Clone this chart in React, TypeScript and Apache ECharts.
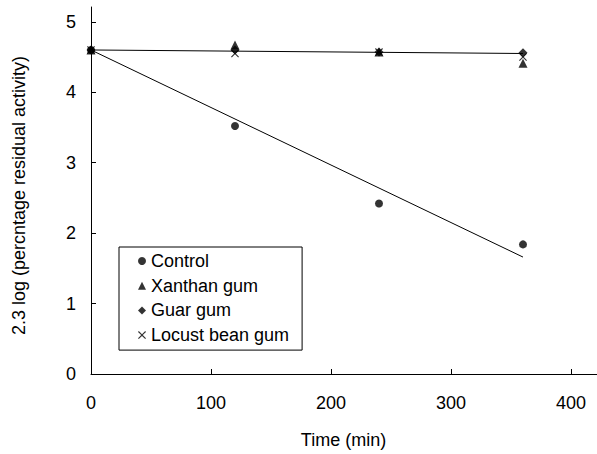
import React, { useEffect, useRef } from "react";
import * as echarts from "echarts";

const times = [0, 120, 240, 360];
const control = [4.6, 3.52, 2.42, 1.84];
const xanthan = [4.6, 4.67, 4.57, 4.41];
const guar = [4.6, 4.6, 4.57, 4.56];
const locust = [4.6, 4.55, 4.57, 4.5];

const trendX = [0, 360];
const controlTrend = [4.6, 1.66];
const gumTrend = [4.6, 4.55];

const xTicks = [0, 100, 200, 300, 400];
const yTicks = [0, 1, 2, 3, 4, 5];

const FONT = "Liberation Sans, Arial, sans-serif";
const FS = 18;
const CROSS = "path://M0,1L1,0L5,4L9,0L10,1L6,5L10,9L9,10L5,6L1,10L0,9L4,5Z";

const pairs = (xs: number[], ys: number[]) => xs.map((x, i) => [x, ys[i]]);

export default function App() {
  const ref = useRef<HTMLDivElement>(null);
  useEffect(() => {
    if (!ref.current) return;
    const chart = echarts.init(ref.current, null, { renderer: "svg" });
    const axisCommon = {
      axisLine: { show: true, lineStyle: { color: "#000", width: 1 } },
      splitLine: { show: false },
    };
    chart.setOption({
      animation: false,
      backgroundColor: "#fff",
      textStyle: { fontFamily: FONT },
      grid: { left: 91, right: 0, top: 7, bottom: 80 },
      xAxis: {
        type: "value",
        min: 0,
        max: 421.67,
        ...axisCommon,
        name: "Time (min)",
        nameLocation: "middle",
        nameGap: 57,
        nameTextStyle: { fontSize: FS, color: "#000", fontFamily: FONT, padding: [0, 0, 0, -1] },
        axisTick: { show: true, inside: true, length: 5, customValues: xTicks, lineStyle: { color: "#000" } },
        axisLabel: { customValues: xTicks, fontSize: FS, color: "#000", fontFamily: FONT, margin: 20 },
      },
      yAxis: {
        type: "value",
        min: 0,
        max: 5.21,
        ...axisCommon,
        name: "2.3 log (percntage residual activity)",
        nameLocation: "middle",
        nameGap: 63,
        nameTextStyle: { fontSize: FS, color: "#000", fontFamily: FONT, padding: [0, 10, 0, 0] },
        axisTick: { show: true, inside: true, length: 5, customValues: yTicks, lineStyle: { color: "#000" } },
        axisLabel: { customValues: yTicks, fontSize: FS, color: "#000", fontFamily: FONT, margin: 15 },
      },
      legend: {
        orient: "vertical",
        left: 119,
        top: 247,
        data: ["Control", "Xanthan gum", "Guar gum", "Locust bean gum"],
        borderColor: "#000",
        borderWidth: 1,
        borderRadius: 0,
        padding: [4, 13, 5, 19],
        itemGap: 4.7,
        itemWidth: 8,
        itemHeight: 8,
        textStyle: { fontSize: FS, color: "#000", fontFamily: FONT, lineHeight: 20 },
      },
      series: [
        {
          type: "line",
          data: pairs(trendX, controlTrend),
          showSymbol: false,
          lineStyle: { color: "#000", width: 1 },
          silent: true,
          z: 1,
        },
        {
          type: "line",
          data: pairs(trendX, gumTrend),
          showSymbol: false,
          lineStyle: { color: "#000", width: 1 },
          silent: true,
          z: 1,
        },
        {
          name: "Control",
          type: "scatter",
          data: pairs(times, control),
          symbol: "circle",
          symbolSize: 8,
          itemStyle: { color: "#000" },
          z: 3,
        },
        {
          name: "Xanthan gum",
          type: "scatter",
          data: pairs(times, xanthan),
          symbol: "triangle",
          symbolSize: [9, 9],
          itemStyle: { color: "#000" },
          z: 3,
        },
        {
          name: "Guar gum",
          type: "scatter",
          data: pairs(times, guar),
          symbol: "diamond",
          symbolSize: [9, 9],
          itemStyle: { color: "#000" },
          z: 3,
        },
        {
          name: "Locust bean gum",
          type: "scatter",
          data: pairs(times, locust),
          symbol: CROSS,
          symbolSize: [8, 8],
          itemStyle: { color: "#000" },
          z: 3,
        },
      ],
    });
    return () => chart.dispose();
  }, []);
  return (
    <div
      ref={ref}
      style={{ position: "absolute", left: 0, top: 0, width: 597, height: 454, background: "#fff" }}
    />
  );
}
